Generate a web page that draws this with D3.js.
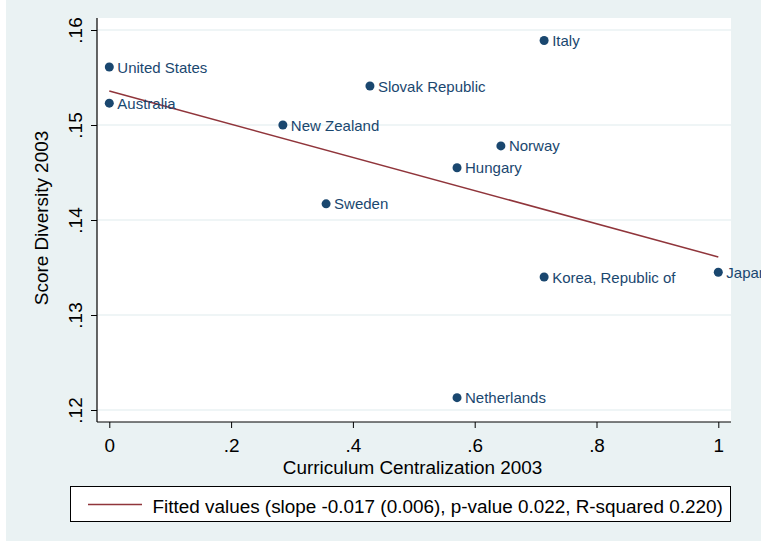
<!DOCTYPE html>
<html>
<head>
<meta charset="utf-8">
<script src="https://cdn.jsdelivr.net/npm/d3@7"></script>
<style>
  body { margin: 0; background: #ffffff; }
  svg { display: block; }
</style>
</head>
<body>
<div id="chart"></div>
<script>
// data
var countries = ["United States", "Australia", "New Zealand", "Sweden", "Slovak Republic",
                 "Hungary", "Norway", "Italy", "Korea, Republic of", "Netherlands", "Japan"];
var centralization = [0, 0, 0.285, 0.356, 0.428, 0.571, 0.643, 0.714, 0.714, 0.571, 1];
var diversity = [0.1561, 0.1523, 0.1500, 0.1417, 0.1541, 0.1455, 0.1478, 0.1589, 0.1340, 0.1213, 0.1345];

// fitted line endpoints
var fitX = [0, 1];
var fitY = [0.15358, 0.13611];

var xTicks = [0, 0.2, 0.4, 0.6, 0.8, 1];
var yTicks = [0.12, 0.13, 0.14, 0.15, 0.16];
var legendText = "Fitted values (slope -0.017 (0.006), p-value 0.022, R-squared 0.220)";

// defaults
var width = 761;
var height = 544;
var navy = "#1a476f";
var maroon = "#90353b";
var bg = "#eaf2f3";
var font = "'Liberation Sans', Arial, sans-serif";
var bigFont = "18.9px";
var plot = {"left": 97, "right": 731, "top": 18, "bottom": 422};

var svg = d3.select('#chart').append('svg')
    .attr('width', width)
    .attr('height', height);

// outer background
svg.append('rect')
    .attr('x', 6).attr('y', 0)
    .attr('width', width - 6).attr('height', 541)
    .attr('fill', bg);

// plot region
svg.append('rect')
    .attr('x', plot.left).attr('y', plot.top)
    .attr('width', plot.right - plot.left).attr('height', plot.bottom - plot.top)
    .attr('fill', 'white');

var x = d3.scaleLinear().domain([0, 1]).range([109.3, 718.3]);
var y = d3.scaleLinear().domain([0.12, 0.16]).range([410, 30]);

function fmt(d) { return d === 0 ? "0" : d === 1 ? "1" : d3.format(".2~f")(d).replace(/^0/, ""); }

// gridlines
svg.selectAll('.grid')
    .data(yTicks)
    .enter()
    .append('line')
    .attr('x1', plot.left).attr('x2', plot.right)
    .attr('y1', function(d){ return y(d); })
    .attr('y2', function(d){ return y(d); })
    .attr('stroke', bg)
    .attr('stroke-width', 1.5);

// x axis
var xAxis = svg.append('g')
    .attr('transform', 'translate(0,' + plot.bottom + ')')
    .call(d3.axisBottom(x).tickValues(xTicks).tickSize(6).tickFormat(fmt));
xAxis.select('.domain').remove();
xAxis.selectAll('line').attr('stroke', 'black').attr('stroke-width', 1);
xAxis.selectAll('text')
    .attr('y', 30).attr('dy', 0)
    .attr('font-family', font).attr('font-size', bigFont).attr('fill', 'black');

// y axis
var yAxis = svg.append('g')
    .attr('transform', 'translate(' + plot.left + ',0)')
    .call(d3.axisLeft(y).tickValues(yTicks).tickSize(6).tickFormat(fmt));
yAxis.select('.domain').remove();
yAxis.selectAll('line').attr('stroke', 'black').attr('stroke-width', 1);
yAxis.selectAll('text')
    .attr('x', 0).attr('dy', 0)
    .attr('transform', 'translate(-15,0) rotate(-90)')
    .attr('text-anchor', 'middle')
    .attr('font-family', font).attr('font-size', bigFont).attr('fill', 'black');

// axis lines
svg.append('line')
    .attr('x1', plot.left).attr('x2', plot.left)
    .attr('y1', plot.top).attr('y2', plot.bottom)
    .attr('stroke', 'black').attr('stroke-width', 1.2);
svg.append('line')
    .attr('x1', plot.left).attr('x2', plot.right)
    .attr('y1', plot.bottom).attr('y2', plot.bottom)
    .attr('stroke', 'black').attr('stroke-width', 1.2);

// axis titles
svg.append('text')
    .attr('x', 412.5).attr('y', 473.5)
    .attr('text-anchor', 'middle')
    .attr('font-family', font).attr('font-size', bigFont)
    .text('Curriculum Centralization 2003');
svg.append('text')
    .attr('transform', 'translate(48,218) rotate(-90)')
    .attr('text-anchor', 'middle')
    .attr('font-family', font).attr('font-size', bigFont)
    .text('Score Diversity 2003');

// fitted line
var fitData = fitX.map(function(d, i){ return [d, fitY[i]]; });
svg.append('path')
    .datum(fitData)
    .attr('d', d3.line().x(function(d){ return x(d[0]); }).y(function(d){ return y(d[1]); }))
    .attr('fill', 'none')
    .attr('stroke', maroon)
    .attr('stroke-width', 1.5);

// points
var pts = countries.map(function(c, i){ return {'name': c, 'x': centralization[i], 'y': diversity[i]}; });

svg.selectAll('.pt')
    .data(pts)
    .enter()
    .append('circle')
    .attr('cx', function(d){ return x(d.x); })
    .attr('cy', function(d){ return y(d.y); })
    .attr('r', 4.5)
    .attr('fill', navy);

svg.selectAll('.lbl')
    .data(pts)
    .enter()
    .append('text')
    .attr('x', function(d){ return x(d.x) + 8; })
    .attr('y', function(d){ return y(d.y) + 5.5; })
    .attr('font-family', font)
    .attr('font-size', '15px')
    .attr('fill', navy)
    .text(function(d){ return d.name; });

// legend
svg.append('rect')
    .attr('x', 70.5).attr('y', 486.5)
    .attr('width', 660).attr('height', 35)
    .attr('fill', 'white')
    .attr('stroke', 'black')
    .attr('stroke-width', 1);
svg.append('line')
    .attr('x1', 88).attr('x2', 142)
    .attr('y1', 504.5).attr('y2', 504.5)
    .attr('stroke', maroon).attr('stroke-width', 1.5);
svg.append('text')
    .attr('x', 152.5).attr('y', 513)
    .attr('font-family', font).attr('font-size', bigFont)
    .text(legendText);
</script>
</body>
</html>
